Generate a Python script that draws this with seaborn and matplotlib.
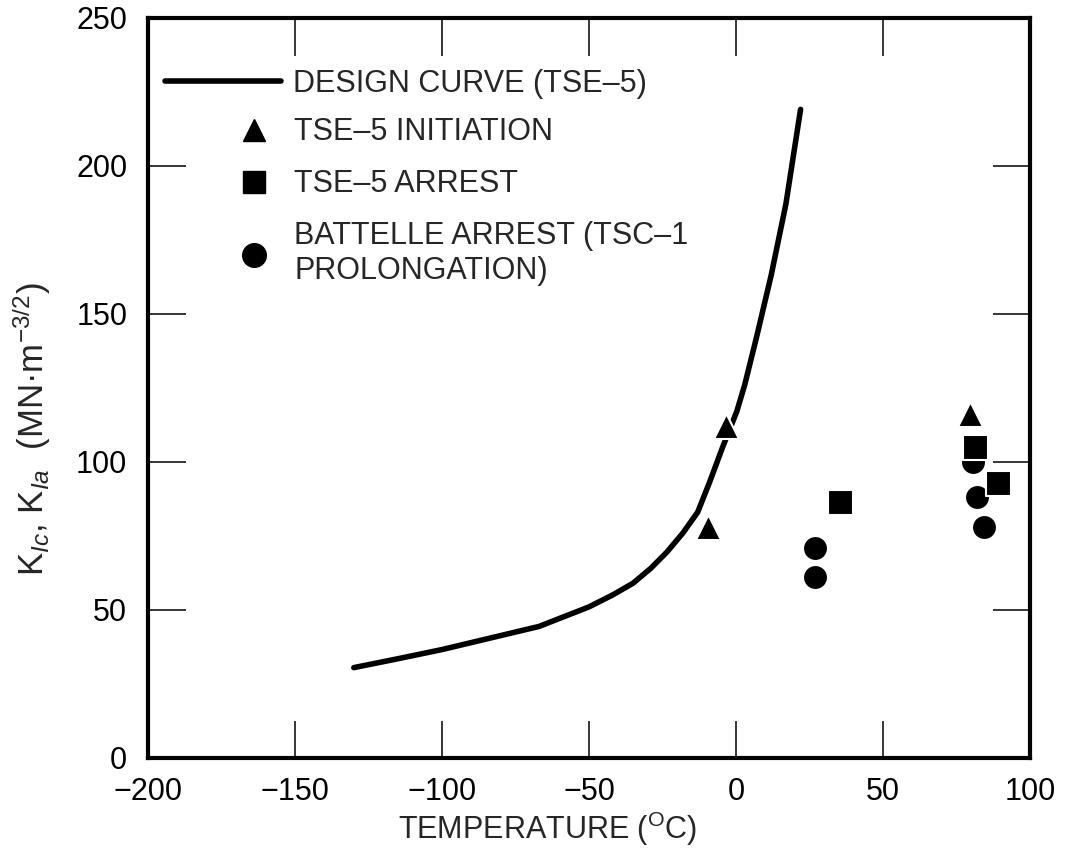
import matplotlib
matplotlib.use('Agg')
import matplotlib.pyplot as plt
from matplotlib.lines import Line2D
import seaborn as sns

# design curve (TSE-5)
curve_temp = [-130, -115, -100, -67, -50, -42, -35, -29, -23.5, -18, -13, -9, -4.5, 0.3, 3, 7, 12, 17, 22]
curve_k = [30.5, 33.5, 36.6, 44.4, 51, 55, 59, 64, 69.5, 76, 83, 93, 105, 117, 126, 142, 163, 187, 219]

# TSE-5 initiation (triangles)
init_temp = [-9.5, -3.5, 79.5]
init_k = [78, 112, 116]

# TSE-5 arrest (squares)
arrest_temp = [35.5, 81.5, 89]
arrest_k = [86.5, 105, 93]

# Battelle arrest (circles)
batt_temp = [27, 27, 80.5, 82, 84.5]
batt_k = [71, 61, 100, 88, 78]

legend_labels = ['DESIGN CURVE (TSE–5)', 'TSE–5 INITIATION', 'TSE–5 ARREST',
                 'BATTELLE ARREST (TSC–1\nPROLONGATION)']

sns.set_style('ticks')
plt.rcParams['font.family'] = ['Liberation Sans', 'DejaVu Sans']
plt.rcParams['mathtext.fontset'] = 'custom'
plt.rcParams['mathtext.rm'] = 'Liberation Sans'
plt.rcParams['mathtext.it'] = 'Liberation Sans:italic'

fig = plt.figure(figsize=(10.65, 8.55), dpi=100)
ax = fig.add_axes([0.139, 0.1135, 0.828, 0.866])

sns.lineplot(x=curve_temp, y=curve_k, sort=False, estimator=None, color='black',
             linewidth=4, ax=ax, zorder=2)
sns.scatterplot(x=init_temp, y=init_k, marker='^', s=18 ** 2, color='black',
                edgecolor='white', linewidth=1.5, ax=ax, zorder=3)
sns.scatterplot(x=batt_temp, y=batt_k, marker='o', s=18 ** 2, color='black',
                edgecolor='white', linewidth=1.5, ax=ax, zorder=3)
sns.scatterplot(x=arrest_temp, y=arrest_k, marker='s', s=18 ** 2, color='black',
                edgecolor='white', linewidth=1.5, ax=ax, zorder=4)

ax.set_xlim(-200, 100)
ax.set_ylim(0, 250)
ax.set_xticks([-200, -150, -100, -50, 0, 50, 100])
ax.set_yticks([0, 50, 100, 150, 200, 250])

for side in ['top', 'right', 'bottom', 'left']:
    ax.spines[side].set_visible(True)
    ax.spines[side].set_linewidth(3)
    ax.spines[side].set_color('black')
ax.tick_params(direction='in', length=27, width=1.1, top=True, right=True,
               labelsize=22, colors='black')
ax.tick_params(axis='x', pad=14)
ax.tick_params(axis='y', pad=15)

ax.set_xlabel('TEMPERATURE ($^{\\mathrm{O}}$C)', fontsize=22)
ax.xaxis.set_label_coords(0.453, -0.07)
ax.set_ylabel('K$_{Ic}$, K$_{Ia}$  (MN·m$^{-3/2}$)', fontsize=25)
ax.yaxis.set_label_coords(-0.108, 0.444)

# legend: the curve gets a long handle, the markers a short one
line_handle = [Line2D([], [], color='black', linewidth=4)]
leg1 = ax.legend(line_handle, legend_labels[:1], loc='upper left',
                 bbox_to_anchor=(0.019, 0.931), frameon=False, fontsize=22,
                 handlelength=3.8, handletextpad=0.4, borderpad=0, borderaxespad=0)
ax.add_artist(leg1)

marker_handles = [
    Line2D([], [], linestyle='none', marker='^', markersize=16, color='black'),
    Line2D([], [], linestyle='none', marker='s', markersize=16, color='black'),
    Line2D([], [], linestyle='none', marker='o', markersize=17, color='black'),
]
ax.legend(marker_handles, legend_labels[1:], loc='upper left',
          bbox_to_anchor=(0.088, 0.865), frameon=False, fontsize=22,
          handlelength=1.85, handletextpad=0.4, borderpad=0, borderaxespad=0,
          labelspacing=0.72)

fig.savefig('out.png', dpi=100)
